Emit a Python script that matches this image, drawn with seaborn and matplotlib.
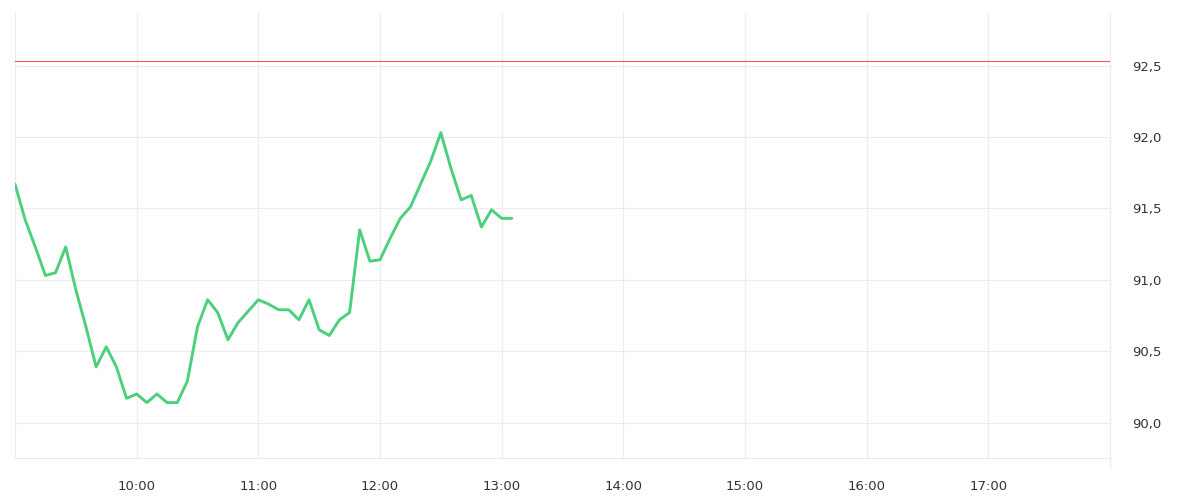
import pandas as pd
import matplotlib
matplotlib.use("Agg")
import matplotlib.pyplot as plt
import matplotlib.dates as mdates
from matplotlib.ticker import FuncFormatter
import seaborn as sns

# price every 5 minutes, 09:00 - 13:05
times = pd.date_range("2024-01-01 09:00", "2024-01-01 13:05", freq="5min")
prices = [91.67, 91.42, 91.23, 91.03, 91.05, 91.23, 90.93, 90.67, 90.39, 90.53, 90.39, 90.17,
          90.20, 90.14, 90.20, 90.14, 90.14, 90.29, 90.67, 90.86, 90.77, 90.58, 90.70, 90.78,
          90.86, 90.83, 90.79, 90.79, 90.72, 90.86, 90.65, 90.61, 90.72, 90.77, 91.35, 91.13,
          91.14, 91.29, 91.43, 91.51, 91.67, 91.83, 92.03, 91.78, 91.56, 91.59, 91.37, 91.49,
          91.43, 91.43]
ref_level = 92.53
y_ticks = [90.0, 90.5, 91.0, 91.5, 92.0, 92.5]

df = pd.DataFrame({"time": times, "price": prices})

sns.set_style("white")
plt.rcParams['font.family'] = ['DejaVu Sans']

fig = plt.figure(figsize=(12, 5), dpi=100)
ax = fig.add_axes([0.0125, 0.084, 0.9125, 0.892])

grid_c = "#ececec"
ax.axhline(ref_level, color="#ff4d4d", lw=0.72, zorder=3, antialiased=False)
sns.lineplot(data=df, x="time", y="price", ax=ax, color="#4dd07d", lw=2.1, zorder=4)

start = pd.Timestamp("2024-01-01 09:00")
end = pd.Timestamp("2024-01-01 18:00")
ax.set_xlim(start, end)
ax.set_ylim(89.752, 92.875)

ax.xaxis.set_major_locator(mdates.HourLocator())
ax.xaxis.set_major_formatter(FuncFormatter(
    lambda v, p: "" if mdates.num2date(v).hour in (9, 18) else mdates.num2date(v).strftime("%H:%M")))
ax.set_yticks(y_ticks)
ax.yaxis.set_major_formatter(FuncFormatter(lambda v, p: f"{v:.1f}".replace(".", ",")))
ax.yaxis.tick_right()

ax.grid(True, color=grid_c, lw=0.8)
ax.set_axisbelow(True)
ax.tick_params(axis="x", length=7.5, width=0.8, color=grid_c, pad=8, labelsize=9.5, labelcolor="#333333")
ax.tick_params(axis="y", length=0, pad=16, labelsize=9.5, labelcolor="#333333")

for s in ["left", "right", "bottom"]:
    ax.spines[s].set_color(grid_c)
    ax.spines[s].set_linewidth(0.8)
ax.spines["top"].set_visible(False)
ax.spines["left"].set_visible(False)
ax.spines["right"].set_bounds(89.68, 92.875)

ax.set_xlabel("")
ax.set_ylabel("")

plt.savefig("out.png", dpi=100)
